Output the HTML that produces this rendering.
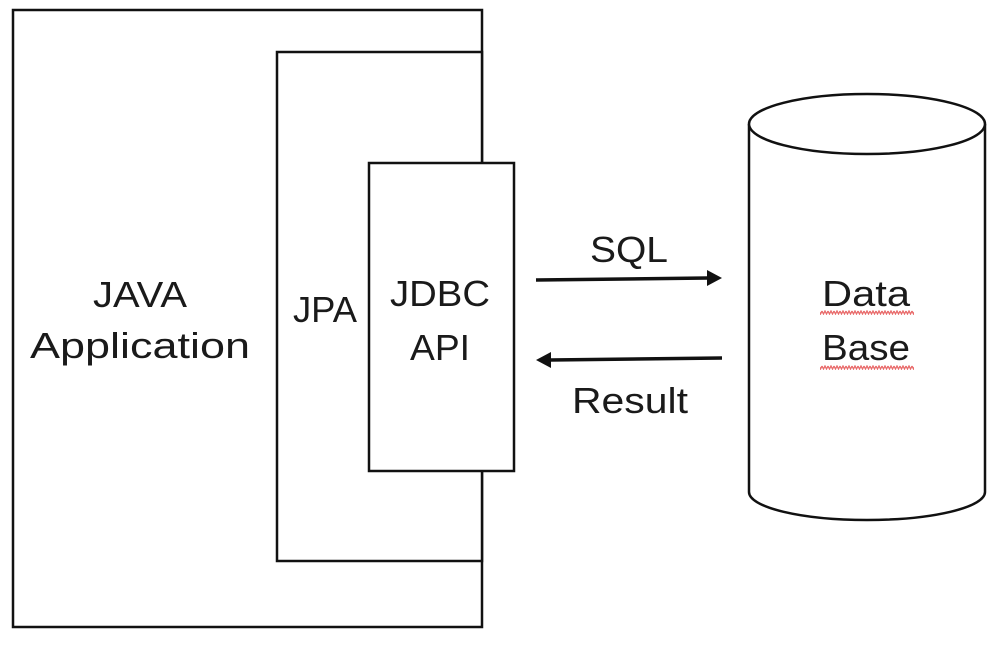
<!DOCTYPE html>
<html><head><meta charset="utf-8"><style>
html,body{margin:0;padding:0;background:#fff;width:1008px;height:646px;overflow:hidden}
svg text{font-family:"Liberation Sans",sans-serif;fill:#1a1a1a}
</style></head><body>
<svg width="1008" height="646" viewBox="0 0 1008 646" xmlns="http://www.w3.org/2000/svg">
<defs>
<pattern id="sq" width="6" height="5" patternUnits="userSpaceOnUse">
<path d="M0 1 L1.5 4 L3 1 L4.5 4 L6 1" fill="none" stroke="#e86a6a" stroke-width="1.3"/>
</pattern>
</defs>
<g fill="none" stroke="#111" stroke-width="2.5">
<rect x="13" y="10" width="469" height="617" fill="#fff"/>
<rect x="277" y="52" width="205" height="509" fill="#fff"/>
<rect x="369" y="163" width="145" height="308" fill="#fff"/>
<path d="M749 124 L749 492 A118 28 0 0 0 985 492 L985 124" fill="#fff"/>
<ellipse cx="867" cy="124" rx="118" ry="30" fill="#fff"/>
<line x1="536" y1="280" x2="708" y2="278" stroke-width="3.5"/>
<line x1="722" y1="358" x2="550" y2="360" stroke-width="3.5"/>
</g>
<polygon points="722,278 707,270 707,286" fill="#111"/>
<polygon points="536,360 551,352 551,368" fill="#111"/>
<g font-size="36">
<text x="93" y="307" textLength="94" lengthAdjust="spacingAndGlyphs">JAVA</text>
<text x="30" y="358" textLength="220" lengthAdjust="spacingAndGlyphs">Application</text>
<text x="293" y="322" textLength="64" lengthAdjust="spacingAndGlyphs">JPA</text>
<text x="390" y="306" textLength="100" lengthAdjust="spacingAndGlyphs">JDBC</text>
<text x="410" y="360" textLength="60" lengthAdjust="spacingAndGlyphs">API</text>
<text x="590" y="262" textLength="78" lengthAdjust="spacingAndGlyphs">SQL</text>
<text x="572" y="413" textLength="116" lengthAdjust="spacingAndGlyphs">Result</text>
<text x="822" y="306" textLength="88" lengthAdjust="spacingAndGlyphs">Data</text>
<text x="822" y="360" textLength="88" lengthAdjust="spacingAndGlyphs">Base</text>
</g>
<rect x="820" y="310" width="94" height="5" fill="url(#sq)"/>
<rect x="820" y="365" width="94" height="5" fill="url(#sq)"/>
</svg>
</body></html>
